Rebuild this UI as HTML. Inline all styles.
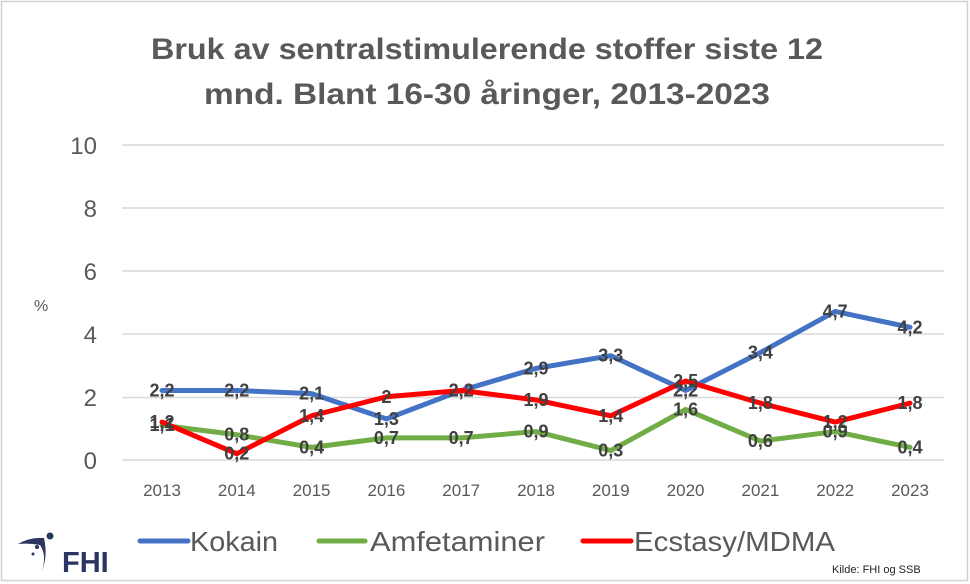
<!DOCTYPE html>
<html><head><meta charset="utf-8"><style>
body{margin:0;background:#fff}
svg{display:block;font-family:"Liberation Sans",sans-serif}
</style></head><body>
<svg width="970" height="584" viewBox="0 0 970 584">
<rect x="1.5" y="1.5" width="966" height="579" fill="#fff" stroke="#d0d0d0" stroke-width="1.5"/>
<g font-weight="bold" font-size="30" fill="#595959" text-anchor="middle">
<text x="487" y="59" textLength="672" lengthAdjust="spacingAndGlyphs">Bruk av sentralstimulerende stoffer siste 12</text>
<text x="487" y="104" textLength="566" lengthAdjust="spacingAndGlyphs">mnd. Blant 16-30 åringer, 2013-2023</text>
</g>
<g stroke="#d9d9d9" stroke-width="1.5">
<line x1="122" x2="944" y1="460" y2="460"/>
<line x1="122" x2="944" y1="397.5" y2="397.5"/>
<line x1="122" x2="944" y1="334" y2="334"/>
<line x1="122" x2="944" y1="271" y2="271"/>
<line x1="122" x2="944" y1="208" y2="208"/>
<line x1="122" x2="944" y1="145" y2="145"/>
</g>
<g font-size="24" fill="#595959" text-anchor="end">
<text x="97" y="469">0</text><text x="97" y="406">2</text><text x="97" y="343">4</text>
<text x="97" y="280">6</text><text x="97" y="217">8</text><text x="97" y="154">10</text>
</g>
<text x="34" y="311" font-size="16" fill="#595959">%</text>
<g font-size="17" fill="#595959" text-anchor="middle" id="xt"></g>
<g id="lines" fill="none" stroke-width="5" stroke-linejoin="round" stroke-linecap="round"></g>
<g id="labels" font-size="18" font-weight="bold" fill="#404040" text-anchor="middle"></g>
<g font-size="28" fill="#595959">
<line x1="140" x2="188" y1="541" y2="541" stroke="#4472c4" stroke-width="5" stroke-linecap="round"/>
<text x="190" y="551" textLength="88" lengthAdjust="spacingAndGlyphs">Kokain</text>
<line x1="319" x2="365" y1="541" y2="541" stroke="#70ad47" stroke-width="5" stroke-linecap="round"/>
<text x="370" y="551" textLength="175" lengthAdjust="spacingAndGlyphs">Amfetaminer</text>
<line x1="583" x2="631" y1="541" y2="541" stroke="#ff0000" stroke-width="5" stroke-linecap="round"/>
<text x="634" y="551" textLength="201" lengthAdjust="spacingAndGlyphs">Ecstasy/MDMA</text>
</g>
<text x="832" y="573" font-size="11" fill="#222">Kilde: FHI og SSB</text>
<g fill="#2a3561">
<path d="M18 544 Q30 537 44 538 Q48 556 42 571 Q47 555 40 545 Q30 543 18 544Z"/>
<circle cx="50" cy="536" r="3.5"/><circle cx="37" cy="547" r="2"/><circle cx="33" cy="554" r="1.5"/>
<text x="62" y="572" font-size="29" font-weight="bold">FHI</text>
</g>
<script>
const k=[2.2,2.2,2.1,1.3,2.2,2.9,3.3,2.2,3.4,4.7,4.2];
const a=[1.1,0.8,0.4,0.7,0.7,0.9,0.3,1.6,0.6,0.9,0.4];
const e=[1.2,0.2,1.4,2,2.2,1.9,1.4,2.5,1.8,1.2,1.8];
const X=i=>162+74.8*i, Y=v=>460-31.6*v;
const ns="http://www.w3.org/2000/svg";
const xt=document.getElementById('xt'),L=document.getElementById('lines'),T=document.getElementById('labels');
for(let i=0;i<11;i++){const t=document.createElementNS(ns,'text');t.setAttribute('x',X(i));t.setAttribute('y',496);t.textContent=2013+i;xt.appendChild(t);}
[[k,'#4472c4'],[a,'#70ad47'],[e,'#ff0000']].forEach(([d,c])=>{
const p=document.createElementNS(ns,'polyline');p.setAttribute('points',d.map((v,i)=>X(i)+','+Y(v)).join(' '));p.setAttribute('stroke',c);L.appendChild(p);});
[k,a,e].forEach(d=>d.forEach((v,i)=>{const t=document.createElementNS(ns,'text');t.setAttribute('x',X(i));t.setAttribute('y',Y(v)+6);t.textContent=String(v).replace('.',',');T.appendChild(t);}));
</script>
</svg>
</body></html>
